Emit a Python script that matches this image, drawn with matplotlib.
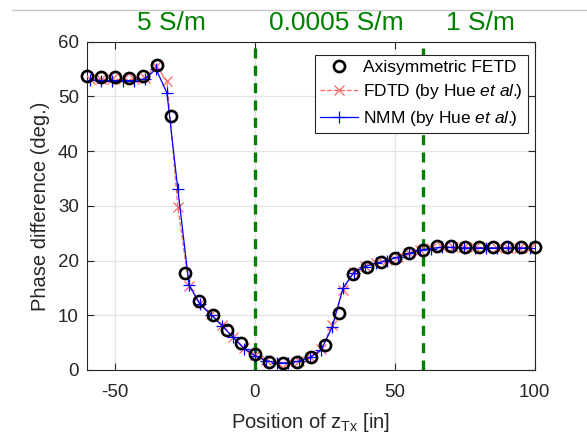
import numpy as np
import matplotlib
matplotlib.use("Agg")
import matplotlib.pyplot as plt
from matplotlib.lines import Line2D

plt.rcParams['font.family'] = ['Liberation Sans', 'DejaVu Sans']
plt.rcParams['mathtext.fontset'] = 'custom'
plt.rcParams['mathtext.rm'] = 'Liberation Sans'
plt.rcParams['mathtext.it'] = 'Liberation Sans:italic'
plt.rcParams['axes.unicode_minus'] = False

# ====== DATA ======
# axisymmetric FETD, every 5 in
z_fetd = [-60, -55, -50, -45, -40, -35, -30, -25, -20, -15, -10, -5, 0,
          5, 10, 15, 20, 25, 30, 35, 40, 45, 50, 55, 60, 65, 70, 75, 80,
          85, 90, 95, 100]
phase_fetd = [53.7, 53.5, 53.5, 53.4, 53.7, 55.7, 46.5, 17.8, 12.6, 10.0,
              7.4, 4.9, 2.9, 1.5, 1.3, 1.5, 2.4, 4.6, 10.5, 17.5, 18.9,
              19.7, 20.4, 21.3, 21.9, 22.6, 22.6, 22.5, 22.4, 22.4, 22.4,
              22.4, 22.4]

# reference solutions (Hue et al.), 10 cm steps
z_ref = [-59.1, -55.1, -51.2, -47.2, -43.3, -39.4, -35.4, -31.5, -27.6,
         -23.6, -19.7, -15.7, -11.8, -7.9, -3.9, 0.0, 3.9, 7.9, 11.8, 15.7,
         19.7, 23.6, 27.6, 31.5, 35.4, 39.4, 43.3, 47.2, 51.2, 55.1, 59.1,
         63.0, 66.9, 70.9, 74.8, 78.7, 82.7, 86.6, 90.6, 94.5, 98.4]
phase_fdtd = [53.2, 53.1, 53.1, 53.1, 53.1, 53.4, 55.6, 52.8, 29.8, 15.3,
              12.2, 10.2, 8.2, 6.1, 4.0, 2.7, 1.8, 1.4, 1.4, 1.7, 2.4, 3.8,
              8.2, 14.6, 18.0, 19.0, 19.6, 20.1, 20.7, 21.4, 21.9, 22.3,
              22.5, 22.5, 22.4, 22.4, 22.4, 22.3, 22.3, 22.3, 22.3]
phase_nmm = [53.0, 52.9, 52.9, 52.9, 52.9, 53.2, 55.0, 50.6, 33.0, 15.6,
             12.0, 10.1, 8.1, 6.0, 3.9, 2.6, 1.7, 1.3, 1.3, 1.6, 2.3, 3.6,
             7.8, 15.0, 17.8, 18.9, 19.5, 20.0, 20.6, 21.3, 21.9, 22.2,
             22.4, 22.4, 22.3, 22.3, 22.3, 22.3, 22.3, 22.3, 22.3]

# layer boundaries and conductivities
boundaries = [0, 60]
layer_x = [-30, 29, 80.5]
layer_labels = ['5 S/m', '0.0005 S/m', '1 S/m']

x_ticks = [-50, 0, 50, 100]
y_ticks = [0, 10, 20, 30, 40, 50, 60]

# ====== PLOT ======
fig = plt.figure(figsize=(5.87, 4.43), dpi=100)
ax = fig.add_axes([87.3 / 587, 73 / 443, 447.2 / 587, 328.3 / 443])

dark = '#262626'
ax.grid(True, color='#e3e3e3', linewidth=0.9)
ax.set_axisbelow(True)

for b in boundaries:
    ax.axvline(b, color='#008000', linestyle=(0, (3, 2.2)), linewidth=2.4, zorder=2)

ax.plot(z_fetd, phase_fetd, linestyle='none', marker='o', markersize=8,
        markerfacecolor='none', markeredgecolor='black', markeredgewidth=1.9,
        label='Axisymmetric FETD', zorder=5, clip_on=False)
ax.plot(z_ref, phase_fdtd, color='#ff6464', linestyle='--', linewidth=0.9,
        marker='x', markersize=7, markeredgewidth=0.9,
        label=r'FDTD (by Hue $\mathit{et\ al.}\!\!$)', zorder=3)
ax.plot(z_ref, phase_nmm, color='#0000ff', linestyle='-', linewidth=0.9,
        marker='+', markersize=9, markeredgewidth=0.9,
        label=r'NMM (by Hue $\mathit{et\ al.}\!\!$)', zorder=4)

ax.set_xlim(-60, 100)
ax.set_ylim(0, 60)
ax.set_xticks(x_ticks)
ax.set_yticks(y_ticks)
ax.tick_params(direction='in', top=True, right=True, length=5, width=0.8,
               labelsize=13.5, colors=dark, pad=6)
ax.tick_params(axis='x', pad=10)
for s in ax.spines.values():
    s.set_color(dark)
    s.set_linewidth(0.8)

ax.set_xlabel(r'Position of z$_{\mathrm{Tx}}$ [in]', fontsize=14.5, color=dark, labelpad=7)
ax.set_ylabel('Phase difference (deg.)', fontsize=14.5, color=dark, labelpad=6)

trans = ax.get_xaxis_transform()
for xl, txt in zip(layer_x, layer_labels):
    ax.text(xl, 1.036, txt, transform=trans, ha='center', va='baseline',
            fontsize=19, color='#008000', clip_on=False)

leg = ax.legend(loc='upper right', bbox_to_anchor=(0.985, 0.96), fontsize=12.5,
                frameon=True, fancybox=False, edgecolor=dark, framealpha=1,
                handlelength=2.2, handletextpad=0.3, borderpad=0.3,
                labelspacing=0.42, borderaxespad=0)
leg.get_frame().set_linewidth(0.8)

# thin rule across the top of the figure
fig.add_artist(Line2D([12 / 587, 1.0], [1 - 9.5 / 443] * 2, color='#c8c8c8',
                      linewidth=1.0, transform=fig.transFigure))

fig.savefig('out.png', dpi=100)
